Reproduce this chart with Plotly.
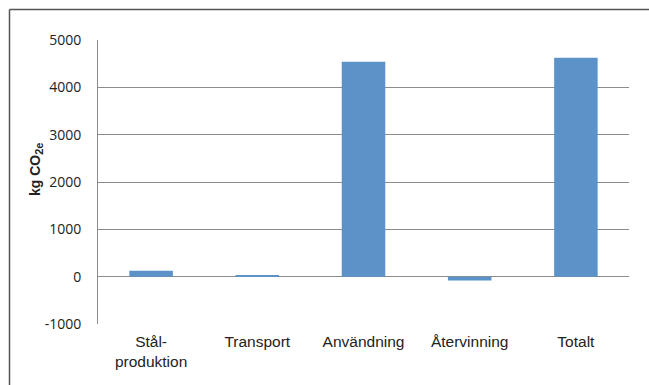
import plotly.graph_objects as go

categories = ["Stål-<br>produktion", "Transport", "Användning", "Återvinning", "Totalt"]
values = [125, 35, 4540, -80, 4625]
y_ticks = [-1000, 0, 1000, 2000, 3000, 4000, 5000]
y_tick_labels = ["-1000", "0", "1000", "2000", "3000", "4000", "5000"]
y_title_main = "kg CO"
y_title_sub = "2e"

W, H = 649, 385
L, R, T, B = 98, 20, 40, 61
pw, ph = W - L - R, H - T - B

fig = go.Figure(go.Bar(
    x=categories, y=values,
    marker=dict(color="#5b93c9", line=dict(width=0)),
))

def px_x(p):
    return (p - L) / pw

def px_y(p):
    return (H - B - p) / ph

fig.update_layout(
    width=W, height=H,
    margin=dict(l=L, r=R, t=T, b=B, pad=0),
    paper_bgcolor="white", plot_bgcolor="white",
    bargap=0.59,
    showlegend=False,
    xaxis=dict(
        showgrid=False, showline=False, zeroline=False,
        tickfont=dict(family="Liberation Sans, Arial", size=15.5, color="#222"),
        ticks="", ticklabelstandoff=6,
    ),
    yaxis=dict(
        range=[-1000, 5000], tickvals=y_ticks, ticktext=y_tick_labels,
        showgrid=True, gridcolor="#8c8c8c", gridwidth=1,
        zeroline=False,
        showline=True, linecolor="#8c8c8c", linewidth=1,
        ticks="", ticklabelstandoff=13,
        tickfont=dict(family="Open Sans", size=14, color="#222"),
    ),
    annotations=[dict(
        text="<b>" + y_title_main + "<sub><span style='font-size:11px'>" + y_title_sub + "</span></sub></b>",
        xref="paper", yref="paper",
        x=px_x(36), y=px_y(170), textangle=-90, showarrow=False,
        font=dict(family="Liberation Sans, Arial", size=14, color="#222"),
        xanchor="center", yanchor="middle",
    )],
    shapes=[
        dict(type="line", xref="paper", yref="paper",
             x0=px_x(9.5), x1=px_x(649), y0=px_y(9.5), y1=px_y(9.5),
             line=dict(color="#555", width=1.5)),
        dict(type="line", xref="paper", yref="paper",
             x0=px_x(9.5), x1=px_x(9.5), y0=px_y(9.5), y1=px_y(385),
             line=dict(color="#555", width=1.5)),
    ],
)

fig.write_html("out.html")
